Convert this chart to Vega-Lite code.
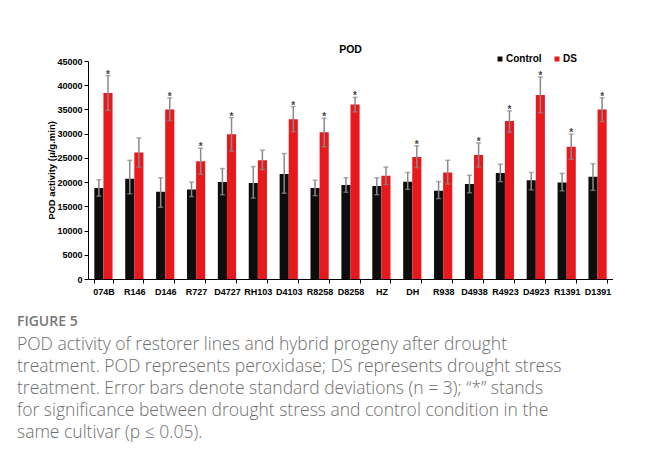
{
  "$schema": "https://vega.github.io/schema/vega-lite/v6.json",
  "padding": {"left": 16, "top": 44, "right": 0, "bottom": 0},
  "background": "white",
  "config": {
    "font": "Liberation Sans",
    "view": {"stroke": null},
    "axisY": {
      "labelOverlap": false,
      "labelFlush": false,
      "grid": false,
      "titleFontSize": 9.5,
      "titleFontWeight": "bold",
      "titleColor": "black",
      "titlePadding": 0,
      "labelFontSize": 9,
      "labelFontWeight": "bold",
      "labelColor": "black",
      "tickColor": "black",
      "domainColor": "black",
      "tickSize": 4,
      "labelPadding": 2
    }
  },
  "title": {
    "text": "FIGURE 5",
    "subtitle": [
      "POD activity of restorer lines and hybrid progeny after drought",
      "treatment. POD represents peroxidase; DS represents drought stress",
      "treatment. Error bars denote standard deviations (n = 3); “*” stands",
      "for significance between drought stress and control condition in the",
      "same cultivar (p ≤ 0.05)."
    ],
    "orient": "bottom",
    "anchor": "start",
    "frame": "bounds",
    "dx": -30,
    "offset": 19,
    "font": "Open Sans",
    "fontSize": 14,
    "fontWeight": 600,
    "color": "#777777",
    "subtitleFont": "Open Sans",
    "subtitleFontSize": 17.5,
    "subtitleFontWeight": 300,
    "subtitleColor": "#6e6e6e",
    "subtitleLineHeight": 22,
    "subtitlePadding": 7
  },
  "datasets": {
    "pod": [
      {"cultivar": "074B", "group": "Control", "value": 18800, "lo": 17100, "hi": 20500, "sig": ""},
      {"cultivar": "074B", "group": "DS", "value": 38400, "lo": 34800, "hi": 42000, "sig": "*"},
      {"cultivar": "R146", "group": "Control", "value": 20700, "lo": 17600, "hi": 24500, "sig": ""},
      {"cultivar": "R146", "group": "DS", "value": 26100, "lo": 23100, "hi": 29100, "sig": ""},
      {"cultivar": "D146", "group": "Control", "value": 18000, "lo": 14800, "hi": 20900, "sig": ""},
      {"cultivar": "D146", "group": "DS", "value": 35000, "lo": 32700, "hi": 37400, "sig": "*"},
      {"cultivar": "R727", "group": "Control", "value": 18500, "lo": 17000, "hi": 20000, "sig": ""},
      {"cultivar": "R727", "group": "DS", "value": 24300, "lo": 21600, "hi": 27000, "sig": "*"},
      {"cultivar": "D4727", "group": "Control", "value": 20000, "lo": 17400, "hi": 22800, "sig": ""},
      {"cultivar": "D4727", "group": "DS", "value": 29900, "lo": 26400, "hi": 33300, "sig": "*"},
      {"cultivar": "RH103", "group": "Control", "value": 19800, "lo": 16700, "hi": 23200, "sig": ""},
      {"cultivar": "RH103", "group": "DS", "value": 24500, "lo": 22600, "hi": 26600, "sig": ""},
      {"cultivar": "D4103", "group": "Control", "value": 21700, "lo": 17700, "hi": 25900, "sig": ""},
      {"cultivar": "D4103", "group": "DS", "value": 33000, "lo": 30400, "hi": 35600, "sig": "*"},
      {"cultivar": "R8258", "group": "Control", "value": 18800, "lo": 17200, "hi": 20400, "sig": ""},
      {"cultivar": "R8258", "group": "DS", "value": 30300, "lo": 27300, "hi": 33200, "sig": "*"},
      {"cultivar": "D8258", "group": "Control", "value": 19400, "lo": 17900, "hi": 20900, "sig": ""},
      {"cultivar": "D8258", "group": "DS", "value": 36000, "lo": 34500, "hi": 37500, "sig": "*"},
      {"cultivar": "HZ", "group": "Control", "value": 19200, "lo": 17400, "hi": 20900, "sig": ""},
      {"cultivar": "HZ", "group": "DS", "value": 21300, "lo": 19500, "hi": 23100, "sig": ""},
      {"cultivar": "DH", "group": "Control", "value": 20100, "lo": 18500, "hi": 22000, "sig": ""},
      {"cultivar": "DH", "group": "DS", "value": 25200, "lo": 23000, "hi": 27500, "sig": "*"},
      {"cultivar": "R938", "group": "Control", "value": 18200, "lo": 16600, "hi": 20100, "sig": ""},
      {"cultivar": "R938", "group": "DS", "value": 22000, "lo": 19600, "hi": 24500, "sig": ""},
      {"cultivar": "D4938", "group": "Control", "value": 19600, "lo": 17800, "hi": 21400, "sig": ""},
      {"cultivar": "D4938", "group": "DS", "value": 25600, "lo": 23100, "hi": 28100, "sig": "*"},
      {"cultivar": "R4923", "group": "Control", "value": 21900, "lo": 20100, "hi": 23700, "sig": ""},
      {"cultivar": "R4923", "group": "DS", "value": 32600, "lo": 30300, "hi": 34700, "sig": "*"},
      {"cultivar": "D4923", "group": "Control", "value": 20400, "lo": 18400, "hi": 22000, "sig": ""},
      {"cultivar": "D4923", "group": "DS", "value": 38000, "lo": 34300, "hi": 41700, "sig": "*"},
      {"cultivar": "R1391", "group": "Control", "value": 19900, "lo": 18200, "hi": 21800, "sig": ""},
      {"cultivar": "R1391", "group": "DS", "value": 27300, "lo": 24700, "hi": 29900, "sig": "*"},
      {"cultivar": "D1391", "group": "Control", "value": 21100, "lo": 18300, "hi": 23800, "sig": ""},
      {"cultivar": "D1391", "group": "DS", "value": 35000, "lo": 32500, "hi": 37400, "sig": "*"}
    ]
  },
  "vconcat": [
    {
      "width": 525,
      "height": 218,
      "title": {"text": "POD", "fontSize": 10.5, "fontWeight": "bold", "anchor": "middle", "offset": 2, "color": "black", "font": "Liberation Sans"},
      "data": {"name": "pod"},
      "encoding": {
        "x": {
          "field": "cultivar",
          "type": "nominal",
          "sort": null,
          "scale": {"paddingInner": 0.41, "paddingOuter": 0.205},
          "axis": {
            "title": null,
            "labelAngle": 0,
            "labelFontSize": 9,
            "labelFontWeight": "bold",
            "labelColor": "black",
            "tickColor": "black",
            "domainColor": "black",
            "tickSize": 4,
            "tickBand": "extent",
            "labelPadding": 4
          }
        },
        "xOffset": {"field": "group", "type": "nominal", "scale": {"paddingInner": 0, "paddingOuter": 0}}
      },
      "layer": [
        {
          "mark": {"type": "bar"},
          "encoding": {
            "y": {
              "field": "value",
              "type": "quantitative",
              "scale": {"domain": [0, 45000], "nice": false},
              "axis": {"title": "POD activity (μ/g.min)", "values": [0, 5000, 10000, 15000, 20000, 25000, 30000, 35000, 40000, 45000], "format": "d"}
            },
            "color": {
              "field": "group",
              "type": "nominal",
              "scale": {"domain": ["Control", "DS"], "range": ["#0d0d0d", "#e8191c"]},
              "legend": {
                "orient": "none",
                "legendX": 407,
                "legendY": -7,
                "direction": "horizontal",
                "title": null,
                "symbolType": "square",
                "symbolSize": 25,
                "symbolStrokeWidth": 0,
                "labelFontSize": 10,
                "labelFontWeight": "bold",
                "labelColor": "black",
                "labelOffset": 1,
                "columnPadding": 10
              }
            }
          }
        },
        {
          "mark": {"type": "rule", "color": "#8a8a8a", "strokeWidth": 1.5},
          "encoding": {
            "y": {"field": "lo", "type": "quantitative", "axis": {"title": "POD activity (μ/g.min)", "values": [0, 5000, 10000, 15000, 20000, 25000, 30000, 35000, 40000, 45000], "format": "d"}},
            "y2": {"field": "hi"}
          }
        },
        {
          "mark": {"type": "tick", "color": "#8a8a8a", "thickness": 1.5},
          "encoding": {
            "y": {"field": "lo", "type": "quantitative", "axis": {"title": "POD activity (μ/g.min)", "values": [0, 5000, 10000, 15000, 20000, 25000, 30000, 35000, 40000, 45000], "format": "d"}},
            "size": {"value": 5}
          }
        },
        {
          "mark": {"type": "tick", "color": "#8a8a8a", "thickness": 1.5},
          "encoding": {
            "y": {"field": "hi", "type": "quantitative", "axis": {"title": "POD activity (μ/g.min)", "values": [0, 5000, 10000, 15000, 20000, 25000, 30000, 35000, 40000, 45000], "format": "d"}},
            "size": {"value": 5}
          }
        },
        {
          "mark": {"type": "text", "color": "#444444", "fontSize": 10, "fontWeight": "bold", "baseline": "alphabetic", "dy": 2},
          "encoding": {
            "y": {"field": "hi", "type": "quantitative", "axis": {"title": "POD activity (μ/g.min)", "values": [0, 5000, 10000, 15000, 20000, 25000, 30000, 35000, 40000, 45000], "format": "d"}},
            "text": {"field": "sig"}
          }
        }
      ]
    }
  ]
}
